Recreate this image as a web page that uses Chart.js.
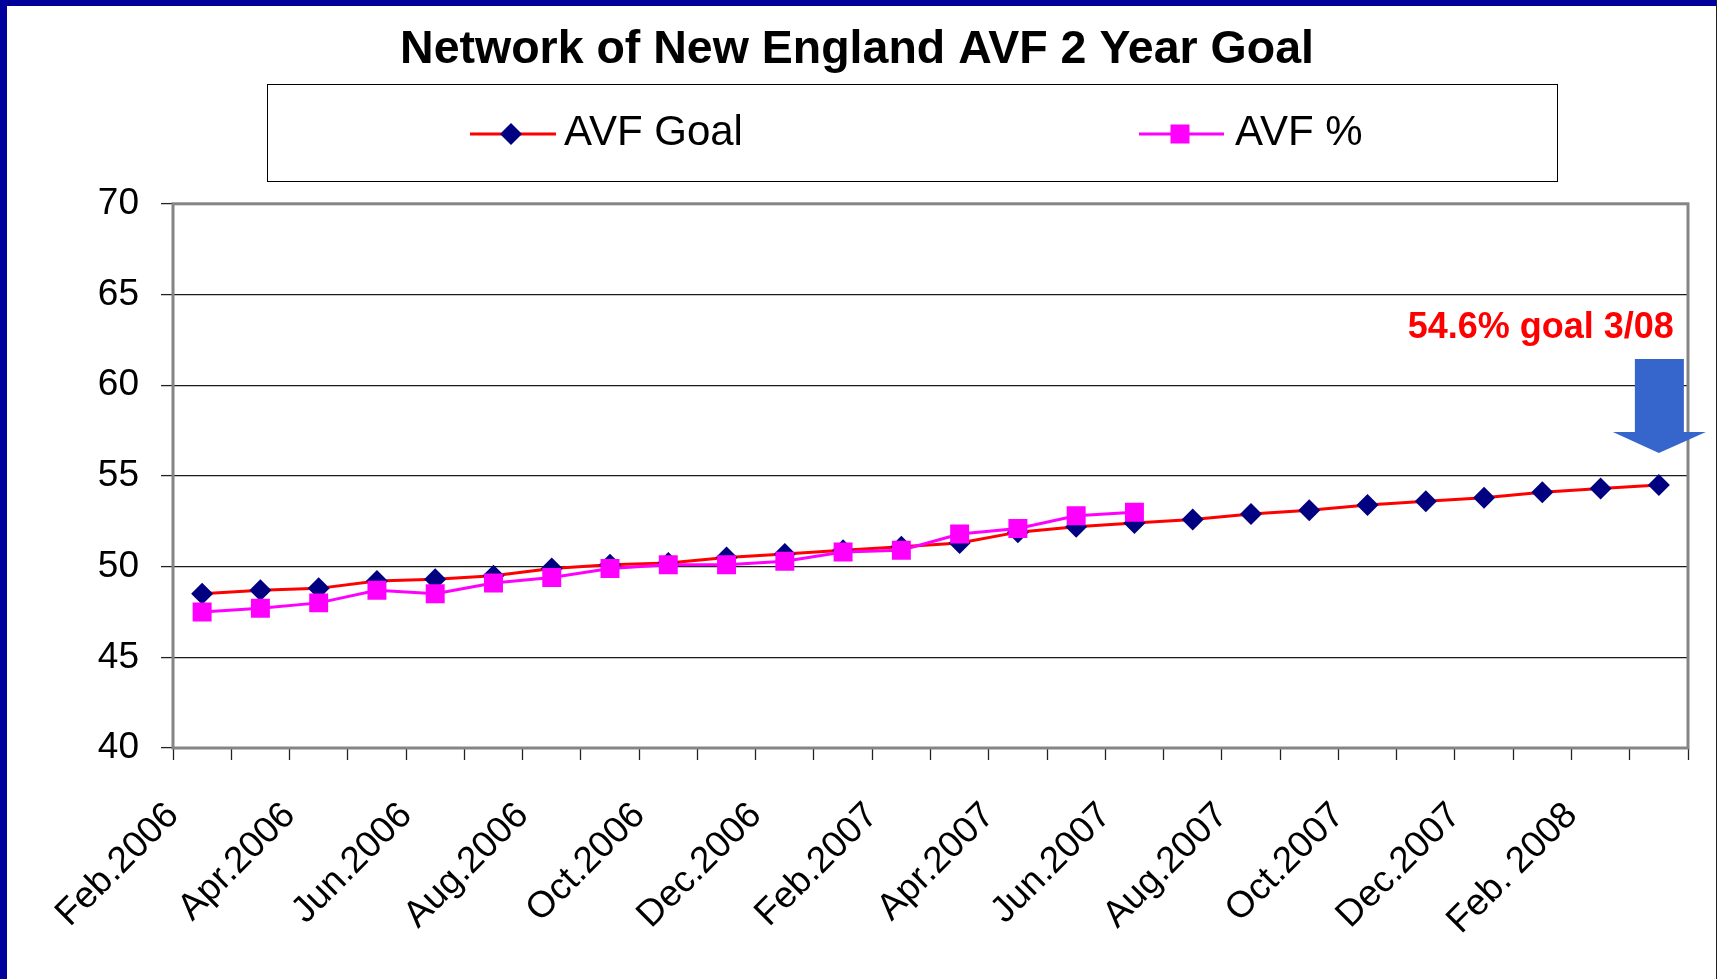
<!DOCTYPE html>
<html>
<head>
<meta charset="utf-8">
<title>Network of New England AVF 2 Year Goal</title>
<script src="https://cdn.jsdelivr.net/npm/chart.js@4.4.1/dist/chart.umd.min.js"></script>
<style>
  html, body { margin: 0; padding: 0; background: #fff; }
  #wrap { position: absolute; left: 0; top: 0; width: 1717px; height: 979px; }
</style>
</head>
<body>
<div id="wrap"><canvas id="avfChart"></canvas></div>
<script>
// months on the category axis (Feb 2006 .. Mar 2008)
const months = [
  "Feb.2006", "Mar.2006", "Apr.2006", "May.2006", "Jun.2006", "Jul.2006",
  "Aug.2006", "Sep.2006", "Oct.2006", "Nov.2006", "Dec.2006", "Jan.2007",
  "Feb.2007", "Mar.2007", "Apr.2007", "May.2007", "Jun.2007", "Jul.2007",
  "Aug.2007", "Sep.2007", "Oct.2007", "Nov.2007", "Dec.2007", "Jan.2008",
  "Feb. 2008", "Mar.2008"
];
// only every second month gets a label
const shownLabels = [
  "Feb.2006", "Apr.2006", "Jun.2006", "Aug.2006", "Oct.2006", "Dec.2006",
  "Feb.2007", "Apr.2007", "Jun.2007", "Aug.2007", "Oct.2007", "Dec.2007",
  "Feb. 2008"
];
const avfGoal = [
  48.5, 48.7, 48.8, 49.2, 49.3, 49.5, 49.9, 50.1, 50.2, 50.5, 50.7, 50.9, 51.1,
  51.3, 51.9, 52.2, 52.4, 52.6, 52.9, 53.1, 53.4, 53.6, 53.8, 54.1, 54.3, 54.5
];
const avfPct = [
  47.5, 47.7, 48.0, 48.7, 48.5, 49.1, 49.4, 49.9, 50.1, 50.1, 50.3, 50.8, 50.9,
  51.8, 52.1, 52.8, 53.0
];
const yTicks = [40, 45, 50, 55, 60, 65, 70];
const seriesNames = ["AVF Goal", "AVF %"];
const goalNote = "54.6% goal 3/08";

const FONT = "'Liberation Sans', Arial, sans-serif";
Chart.defaults.font.family = FONT;
Chart.defaults.color = '#000';

// navy frame, plot border, legend box, arrow + note
const decorPlugin = {
    id: 'decor',
    beforeDatasetsDraw(chart) {
        const ctx = chart.ctx, a = chart.chartArea;
        ctx.save();
        ctx.strokeStyle = '#858585';
        ctx.lineWidth = 3;
        ctx.strokeRect(a.left, a.top, a.right - a.left, a.bottom - a.top);
        ctx.restore();
    },
    afterDraw(chart) {
        const ctx = chart.ctx;
        const xs = chart.scales.x, ys = chart.scales.y;
        ctx.save();

        // legend box
        ctx.strokeStyle = '#000';
        ctx.lineWidth = 1;
        ctx.strokeRect(267.5, 84.5, 1290, 97);
        ctx.font = '42px ' + FONT;
        ctx.fillStyle = '#000';
        ctx.textBaseline = 'alphabetic';
        // AVF Goal item
        ctx.strokeStyle = '#FF0000';
        ctx.lineWidth = 3;
        ctx.beginPath(); ctx.moveTo(470, 134); ctx.lineTo(556, 134); ctx.stroke();
        ctx.fillStyle = '#000080';
        ctx.beginPath();
        ctx.moveTo(511, 123); ctx.lineTo(522, 134); ctx.lineTo(511, 145); ctx.lineTo(500, 134);
        ctx.closePath(); ctx.fill();
        ctx.fillStyle = '#000';
        ctx.fillText(seriesNames[0], 564, 145);
        // AVF % item
        ctx.strokeStyle = '#FF00FF';
        ctx.beginPath(); ctx.moveTo(1139, 134); ctx.lineTo(1224, 134); ctx.stroke();
        ctx.fillStyle = '#FF00FF';
        ctx.fillRect(1170.5, 124.5, 19, 19);
        ctx.fillStyle = '#000';
        ctx.fillText(seriesNames[1], 1235, 145);

        // arrow pointing at the last goal point
        const last = avfGoal.length - 1;
        const tx = xs.getPixelForValue(last);
        const ty = ys.getPixelForValue(avfGoal[last]) - 32;
        ctx.fillStyle = '#3666CC';
        ctx.beginPath();
        ctx.moveTo(tx - 24, ty - 94);
        ctx.lineTo(tx + 25, ty - 94);
        ctx.lineTo(tx + 25, ty - 21);
        ctx.lineTo(tx + 47, ty - 21);
        ctx.lineTo(tx, ty);
        ctx.lineTo(tx - 46, ty - 21);
        ctx.lineTo(tx - 24, ty - 21);
        ctx.closePath();
        ctx.fill();

        ctx.fillStyle = '#FF0000';
        ctx.font = 'bold 36px ' + FONT;
        ctx.textAlign = 'right';
        ctx.fillText(goalNote, tx + 15, ty - 115);

        // frame
        ctx.fillStyle = '#00009C';
        ctx.fillRect(0, 0, 7, chart.height);
        ctx.fillRect(0, 0, chart.width, 6);
        ctx.fillStyle = '#222';
        ctx.fillRect(chart.width - 1, 0, 1, chart.height);
        ctx.restore();
    }
};

window.onload = function() {
    const ctx = document.getElementById('avfChart').getContext('2d');
    new Chart(ctx, {
        type: 'line',
        data: {
            labels: months,
            datasets: [{
                label: seriesNames[0],
                data: avfGoal,
                borderColor: '#FF0000',
                borderWidth: 3,
                backgroundColor: '#000080',
                pointStyle: 'rectRot',
                pointRadius: 11,
                pointBorderWidth: 0,
                pointBackgroundColor: '#000080',
                tension: 0,
                order: 1
            }, {
                label: seriesNames[1],
                data: avfPct,
                borderColor: '#FF00FF',
                borderWidth: 3,
                backgroundColor: '#FF00FF',
                pointStyle: 'rect',
                pointRadius: 13.4,
                pointBorderWidth: 0,
                pointBackgroundColor: '#FF00FF',
                tension: 0,
                order: 0
            }]
        },
        options: {
            responsive: true,
            maintainAspectRatio: false,
            animation: false,
            layout: { padding: { left: 26, right: 29, top: 6, bottom: 0 } },
            plugins: {
                legend: { display: false },
                tooltip: { enabled: false },
                title: {
                    display: true,
                    text: "Network of New England AVF 2 Year Goal",
                    color: '#000',
                    font: { size: 46.5, weight: 'bold' },
                    padding: { top: 16, bottom: 126 }
                }
            },
            scales: {
                x: {
                    offset: true,
                    afterFit: function(s) {
                        s.height = 231;
                        s.paddingLeft = 0;
                        s.paddingRight = 0;
                    },
                    border: { display: false },
                    grid: {
                        offset: true,
                        drawOnChartArea: false,
                        drawTicks: true,
                        tickLength: 12,
                        tickColor: '#222',
                        tickWidth: 1.3
                    },
                    ticks: {
                        autoSkip: false,
                        maxRotation: 45,
                        minRotation: 45,
                        padding: 34,
                        labelOffset: -29,
                        color: '#000',
                        font: { size: 37 },
                        callback: function(v, i) {
                            return shownLabels.indexOf(months[i]) >= 0 ? months[i] : '';
                        }
                    }
                },
                y: {
                    min: yTicks[0],
                    max: yTicks[yTicks.length - 1],
                    afterFit: function(s) { s.width = 147; },
                    afterBuildTicks: function(s) { s.ticks = yTicks.map(v => ({ value: v })); },
                    border: { display: false },
                    grid: {
                        color: '#1a1a1a',
                        lineWidth: 1.2,
                        tickLength: 12,
                        tickColor: '#222',
                        tickWidth: 1.3
                    },
                    ticks: {
                        padding: 22,
                        color: '#000',
                        font: { size: 37 }
                    }
                }
            }
        },
        plugins: [decorPlugin]
    });
}
</script>
</body>
</html>
